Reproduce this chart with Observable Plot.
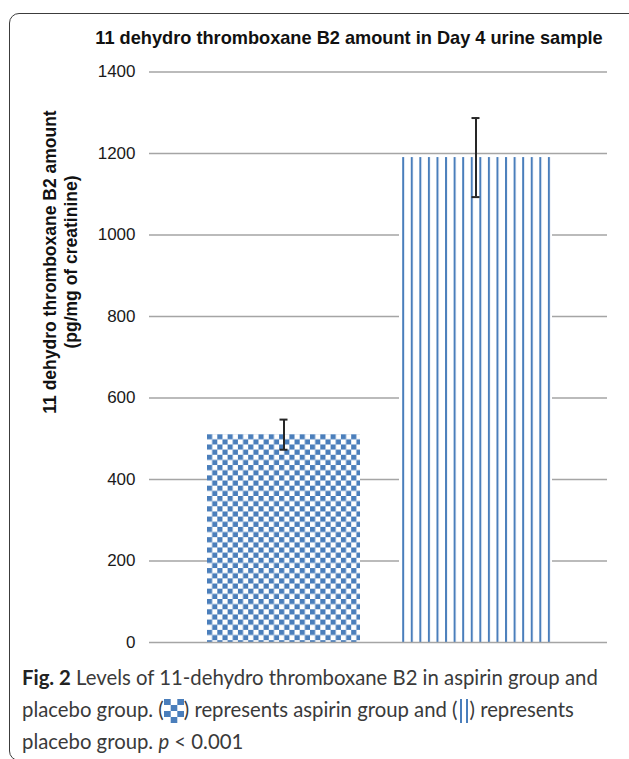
<!DOCTYPE html>
<html>
<head>
<meta charset="utf-8">
<script src="https://cdn.jsdelivr.net/npm/d3@7"></script>
<script src="https://cdn.jsdelivr.net/npm/@observablehq/plot@0.6"></script>
<style>
  html, body { margin: 0; padding: 0; background: #fff; }
  body { width: 629px; height: 759px; position: relative; overflow: hidden; }
  #frame { position: absolute; left: 9px; top: 13px; width: 660px; height: 748px; border: 1.5px solid #3c3c3c; border-radius: 10px; box-sizing: border-box; }
  #title { position: absolute; left: 0; top: 28px; width: 698px; text-align: center; white-space: nowrap;
           font: bold 18.2px "Liberation Sans", Arial, sans-serif; line-height: 20px; color: #111; }
  #ylabel { position: absolute; left: -109.5px; top: 241px; width: 340px; height: 42px; transform: rotate(-90deg);
            text-align: center; white-space: nowrap; font: bold 17.5px "Liberation Sans", Arial, sans-serif; line-height: 21px; color: #111; }
  #chart { position: absolute; left: 0; top: 56px; }
  #caption { position: absolute; left: 22px; top: 661px; font-family: Lato, "Noto Sans", sans-serif; font-size: 18px;
             line-height: 32px; color: #3a3a3a; white-space: nowrap; }
  #caption b { color: #222; }
  .ico { vertical-align: -6px; }
</style>
</head>
<body>
<div id="frame"></div>
<div id="title">11 dehydro thromboxane B2 amount in Day 4 urine sample</div>
<div id="ylabel">11 dehydro thromboxane B2 amount<br>(pg/mg of creatinine)</div>
<div id="chart"></div>
<div id="caption">
  <span id="cap1"><b>Fig. 2</b> Levels of 11-dehydro thromboxane B2 in aspirin group and</span><br>
  <span>placebo group. (<svg class="ico" width="20" height="24" viewBox="0 0 20 24"><rect width="20" height="24" fill="#fff"/><rect x="0" y="0" width="6.7" height="6" fill="#4a7ebb"/><rect x="13.3" y="0" width="6.7" height="6" fill="#4a7ebb"/><rect x="6.7" y="6" width="6.6" height="6" fill="#4a7ebb"/><rect x="0" y="12" width="6.7" height="6" fill="#4a7ebb"/><rect x="13.3" y="12" width="6.7" height="6" fill="#4a7ebb"/><rect x="6.7" y="18" width="6.6" height="6" fill="#4a7ebb"/></svg>) represents aspirin group and (<svg class="ico" width="12" height="24" viewBox="0 0 12 24"><rect x="2" y="0" width="2" height="24" fill="#4a7ebb"/><rect x="8" y="0" width="2" height="24" fill="#4a7ebb"/></svg>) represents</span><br>
  <span>placebo group. <i>p</i> &lt; 0.001</span>
</div>
<script>
const groups = ["Aspirin", "Placebo"];
const means = [510, 1190];
const errs = [37, 97];
const yTicks = [0, 200, 400, 600, 800, 1000, 1200, 1400];

const blue = "#4a7ebb";
const rows = groups.map((g, i) => ({group: g, mean: means[i], lo: means[i] - errs[i], hi: means[i] + errs[i]}));

const chart = Plot.plot({
  width: 629,
  height: 604,
  marginTop: 15.5,
  marginBottom: 18,
  marginLeft: 149,
  marginRight: 22,
  style: {fontFamily: '"Liberation Sans", Arial, sans-serif', fontSize: "17px", color: "#1a1a1a", background: "transparent", overflow: "visible"},
  x: {domain: groups, range: [187.25, 572.25], paddingInner: 0.2052, paddingOuter: 0.1026, axis: null},
  y: {domain: [0, 1400]},
  marks: [
    Plot.ruleY(yTicks.filter(t => t > 0), {stroke: "#a5a5a5", strokeWidth: 1.5}),
    Plot.barY(rows, {filter: d => d.group === groups[0], x: "group", y: "mean", fill: "url(#tx-checker)"}),
    Plot.barY(rows, {filter: d => d.group === groups[1], x: "group", y: "mean", fill: "url(#tx-lines)"}),
    Plot.ruleY([0], {stroke: "#a5a5a5", strokeWidth: 1.5}),
    Plot.ruleX(rows, {x: "group", y1: "lo", y2: "hi", stroke: "#262626", strokeWidth: 2}),
    Plot.tickY(rows, {x: "group", y: "lo", stroke: "#262626", strokeWidth: 2, insetLeft: 72.5, insetRight: 72.5}),
    Plot.tickY(rows, {x: "group", y: "hi", stroke: "#262626", strokeWidth: 2, insetLeft: 72.5, insetRight: 72.5}),
    Plot.axisY(yTicks, {tickSize: 0, tickPadding: 14, fontSize: 17, tickFormat: d => String(d), label: null, fill: "#1a1a1a"})
  ]
});
document.getElementById("chart").appendChild(chart);

// fill patterns positioned from the scales
const svg = chart.tagName.toLowerCase() === "svg" ? chart : chart.querySelector("svg");
const xs = chart.scale("x"), ys = chart.scale("y");
const defs = d3.select(svg).insert("defs", ":first-child");
const cell = 5.15;
const pc = defs.append("pattern").attr("id", "tx-checker").attr("patternUnits", "userSpaceOnUse")
  .attr("x", xs.apply(groups[0])).attr("y", ys.apply(means[0])).attr("width", 2 * cell).attr("height", 2 * cell);
pc.append("rect").attr("width", 2 * cell).attr("height", 2 * cell).attr("fill", "#fff");
pc.append("rect").attr("width", cell).attr("height", cell).attr("fill", blue);
pc.append("rect").attr("x", cell).attr("y", cell).attr("width", cell).attr("height", cell).attr("fill", blue);
const period = 8.57;
const pl = defs.append("pattern").attr("id", "tx-lines").attr("patternUnits", "userSpaceOnUse")
  .attr("x", xs.apply(groups[1]) + 3.2).attr("y", 0).attr("width", period).attr("height", 10);
pl.append("rect").attr("width", period).attr("height", 10).attr("fill", "#fff");
pl.append("rect").attr("width", 2).attr("height", 10).attr("fill", blue);

// fit caption width to the reference line length
const cap = document.getElementById("caption");
const w1 = document.getElementById("cap1").getBoundingClientRect().width;
cap.style.fontSize = (18 * 576 / w1).toFixed(2) + "px";
</script>
</body>
</html>
